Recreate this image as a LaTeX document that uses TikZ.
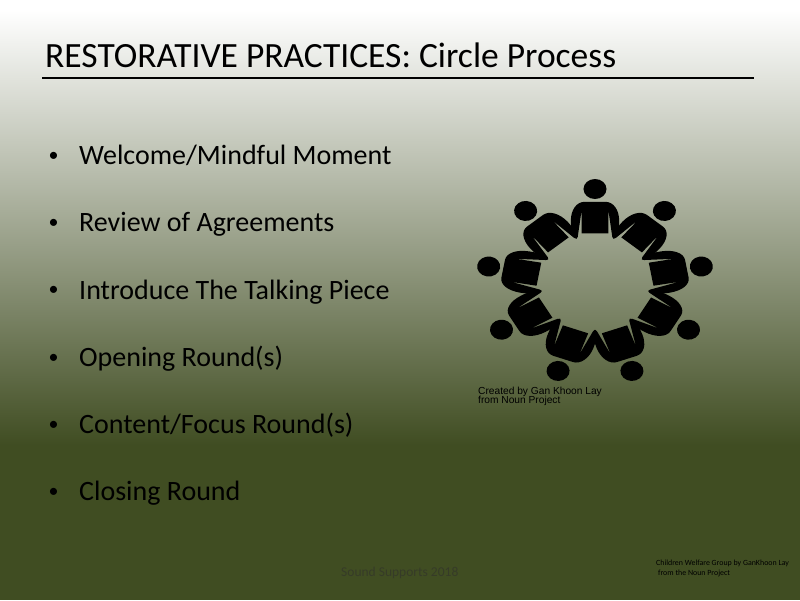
\documentclass[tikz,border=0pt]{standalone}
\usepackage{fontspec}
\setmainfont{Carlito}
\newfontfamily\creditfont{Liberation Sans}
\definecolor{slidedark}{HTML}{404D22}
\definecolor{footgrey}{HTML}{363B28}
\tikzset{
sitter/.pic={
\fill (0,-93.8) circle (10);
\fill (-9,-81) -- (9,-81) .. controls (16,-81) and (21,-73) .. (21,-62) .. controls (21,-55) and (20,-49) .. (17.5,-45) .. controls (16.5,-43.5) and (15.5,-44) .. (15,-46) -- (11.7,-72) -- (11.7,-49.5) -- (-11.7,-49.5) -- (-11.7,-72) -- (-15,-46) .. controls (-15.5,-44) and (-16.5,-43.5) .. (-17.5,-45) .. controls (-20,-49) and (-21,-55) .. (-21,-62) .. controls (-21,-73) and (-16,-81) .. (-9,-81) -- cycle;
},
bullettext/.style={anchor=base west,font=\fontsize{28}{28}\selectfont,inner sep=0pt},
creditline/.style={anchor=base west,inner sep=0pt,font=\creditfont\fontsize{10.2}{10.2}\selectfont}
}
\begin{document}
\begin{tikzpicture}[x=1pt,y=-1pt]
\useasboundingbox (0,0) rectangle (800,600);
\begin{scope}
\fill[slidedark] (0,0) rectangle (800,600);
\fill[white] (0,0) rectangle (800,10);
\shade[top color=white,bottom color=slidedark] (0,10) rectangle (800,445);
\end{scope}
\begin{scope}
\node[anchor=base west,inner sep=0pt,font=\fontsize{35.5}{35.5}\selectfont] (title) at (45,67.5) {RESTORATIVE PRACTICES: Circle Process};
\coordinate (ruleleft) at (42,77.5);
\coordinate (ruleright) at (754,77.5);
\draw[line width=2] (ruleleft) -- (ruleright);
\end{scope}
\begin{scope}
\foreach \n/\y/\txt in {1/164.5/Welcome\slash Mindful Moment,2/231.5/Review of Agreements,3/299/Introduce The Talking Piece,4/366.5/Opening Round(s),5/433.5/Content\slash Focus Round(s),6/500.5/Closing Round}{
\node[bullettext,font=\fontsize{20}{20}\selectfont] (dot\n) at (48.5,\y-3.5) {•};
\node[bullettext] (item\n) at (79,\y) {\txt};
}
\end{scope}
\begin{scope}[shift={(595,282.8)},xscale=1.151]
\foreach \a in {0,40,...,320}
\pic[rotate=\a,transform shape] {sitter};
\end{scope}
\begin{scope}
\node[creditline] (madeby) at (478,394.5) {Created by Gan Khoon Lay};
\node[creditline] (source) at (478,403.5) {from Noun Project};
\node[anchor=base west,inner sep=0pt,text=footgrey,font=\fontsize{13.5}{13.5}\selectfont] (footer) at (341,576) {Sound Supports 2018};
\node[anchor=base west,inner sep=0pt,font=\fontsize{7.9}{7.9}\selectfont] (group) at (656,565.5) {Children Welfare Group by GanKhoon Lay};
\node[anchor=base west,inner sep=0pt,font=\fontsize{7.9}{7.9}\selectfont] (nounsite) at (658,575.5) {from the Noun Project};
\end{scope}
\end{tikzpicture}
\end{document}
